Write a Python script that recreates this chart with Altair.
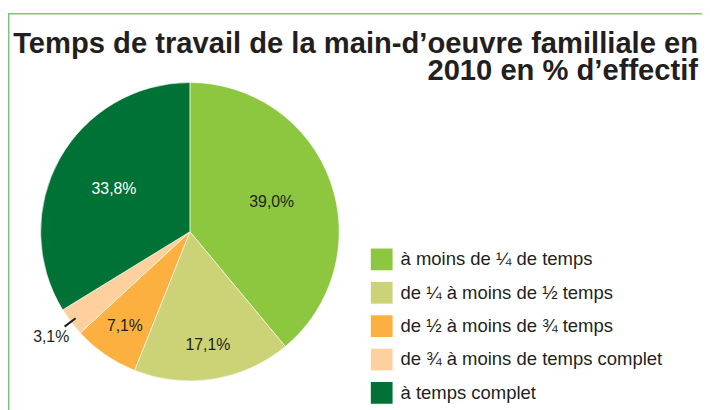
import altair as alt
import pandas as pd

CATEGORIES = [
    "à moins de ¼ de temps",
    "de ¼ à moins de ½ temps",
    "de ½ à moins de ¾ temps",
    "de ¾ à moins de temps complet",
    "à temps complet",
]
VALUES = [39.0, 17.1, 7.1, 3.1, 33.8]
LABELS = ["39,0%", "17,1%", "7,1%", "3,1%", "33,8%"]
COLORS = ["#8dc63f", "#cbd376", "#fbb040", "#fdd09e", "#007236"]
TITLE_LINES = ["Temps de travail de la main-d’oeuvre familliale en", "2010 en % d’effectif"]

df = pd.DataFrame({"cat": CATEGORIES, "value": VALUES, "label": LABELS, "idx": list(range(len(VALUES)))})

CX, CY, R = 184, 224, 151
TXT = "#231f20"
LABEL_FONT = "Liberation Sans, Arial, sans-serif"
TITLE_FONT = "Liberation Sans, Arial, sans-serif"

arcs = alt.Chart(df).mark_arc(radius=R, stroke="white", strokeWidth=0.6).encode(
    theta=alt.Theta("value:Q", stack=True),
    order=alt.Order("idx:Q"),
    x=alt.value(CX),
    y=alt.value(CY),
    color=alt.Color(
        "cat:N",
        scale=alt.Scale(domain=CATEGORIES, range=COLORS),
        legend=alt.Legend(
            title=None,
            orient="none",
            legendX=367,
            legendY=241,
            symbolType="square",
            symbolSize=484,
            symbolStrokeWidth=0,
            symbolOpacity=1,
            labelFontSize=18.7,
            labelFont=LABEL_FONT,
            labelColor=TXT,
            rowPadding=11.75,
            labelOffset=8,
            labelLimit=400,
        ),
    ),
)

# cumulative position of each slice (in value units, on the shared theta scale)
mid_base = (
    alt.Chart(df)
    .transform_window(cum="sum(value)", sort=[alt.SortField("idx")], frame=[None, 0])
    .transform_calculate(mid="datum.cum - datum.value/2")
)

labels = mid_base.transform_calculate(
    lr="datum.value < 5 ? 176 : (datum.value > 30 ? 88 : 116)"
).mark_text(fontSize=16, font=LABEL_FONT, baseline="middle", align="center").encode(
    theta=alt.Theta("mid:Q", stack=False),
    radius=alt.Radius("lr:Q", scale=None),
    x=alt.value(CX),
    y=alt.value(CY),
    text="label:N",
    color=alt.condition(alt.datum.cat == CATEGORIES[4], alt.value("white"), alt.value(TXT)),
)

leader = (
    mid_base.transform_filter("datum.value < 5")
    .transform_calculate(t1="datum.mid - 0.11", t2="datum.mid + 0.11")
    .mark_arc(radius=159, radius2=145, color=TXT)
    .encode(
        theta=alt.Theta("t1:Q", stack=False),
        theta2="t2:Q",
        x=alt.value(CX),
        y=alt.value(CY),
    )
)

one = alt.Data(values=[{}])
title = alt.Chart(one).mark_text(
    align="right", baseline="alphabetic", fontSize=29.5, fontWeight="bold",
    font=TITLE_FONT, lineHeight=28, color=TXT,
).encode(x=alt.value(698), y=alt.value(43), text=alt.value(TITLE_LINES))

border_left = alt.Chart(one).mark_rule(color="#7dc47d", strokeWidth=1.5).encode(
    x=alt.value(0.75), y=alt.value(3.5), y2=alt.value(600)
)
border_top = alt.Chart(one).mark_rule(color="#7dc47d", strokeWidth=1.5).encode(
    x=alt.value(0), x2=alt.value(900), y=alt.value(3.5)
)

chart = (
    alt.layer(border_left, border_top, arcs, leader, labels, title)
    .properties(width=702, height=402, autosize=alt.AutoSizeParams(type="none"), padding=0)
    .configure_view(stroke=None)
)

chart.save("out.html", embed_options={"renderer": "svg", "actions": False})
